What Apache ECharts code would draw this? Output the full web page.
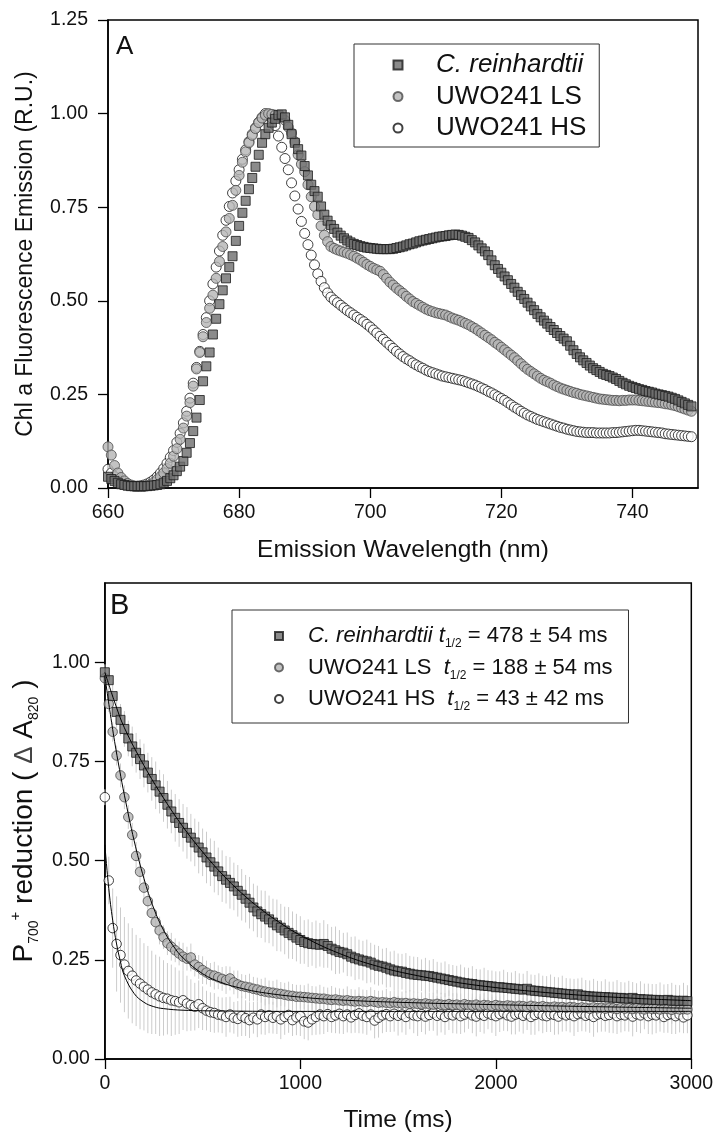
<!DOCTYPE html>
<html><head><meta charset="utf-8">
<script src="https://cdn.jsdelivr.net/npm/echarts@6/dist/echarts.min.js"></script>
<style>html,body{margin:0;padding:0;background:#fff}#c{width:716px;height:1135px}</style>
</head><body><div id="c"></div><script>
// ---------- Panel A: fluorescence emission spectra (660 to 749 nm, 0.5 nm step) ----------
const wlStart = 660, wlStep = 0.5;
const crA = [
0.030,0.024,0.019,0.014,0.010,0.008,0.006,0.005,0.005,0.005,
0.005,0.005,0.005,0.006,0.007,0.008,0.010,0.014,0.019,0.026,
0.034,0.045,0.057,0.072,0.094,0.120,0.152,0.188,0.235,0.285,
0.325,0.362,0.410,0.452,0.491,0.528,0.560,0.590,0.619,0.660,
0.700,0.735,0.767,0.798,0.828,0.858,0.890,0.922,0.945,0.962,
0.976,0.986,0.996,0.998,0.990,0.970,0.945,0.922,0.905,0.888,
0.860,0.835,0.810,0.793,0.778,0.752,0.730,0.714,0.702,0.692,
0.682,0.674,0.667,0.661,0.656,0.652,0.649,0.646,0.644,0.642,
0.641,0.640,0.639,0.638,0.638,0.638,0.638,0.639,0.641,0.643,
0.645,0.648,0.651,0.653,0.656,0.659,0.661,0.663,0.665,0.667,
0.669,0.671,0.672,0.673,0.675,0.676,0.677,0.676,0.674,0.671,
0.668,0.662,0.656,0.648,0.640,0.632,0.622,0.608,0.595,0.585,
0.575,0.565,0.555,0.545,0.535,0.524,0.515,0.505,0.495,0.485,
0.475,0.465,0.456,0.447,0.439,0.430,0.422,0.414,0.406,0.399,
0.392,0.380,0.368,0.358,0.349,0.341,0.334,0.327,0.320,0.315,
0.310,0.305,0.302,0.299,0.295,0.291,0.286,0.281,0.277,0.273,
0.270,0.267,0.264,0.262,0.259,0.257,0.255,0.252,0.250,0.248,
0.246,0.244,0.241,0.238,0.234,0.230,0.226,0.222,0.218];
const lsA = [
0.110,0.088,0.060,0.040,0.028,0.019,0.012,0.008,0.005,0.004,
0.004,0.004,0.006,0.009,0.015,0.022,0.030,0.040,0.052,0.066,
0.085,0.105,0.130,0.160,0.192,0.228,0.272,0.318,0.362,0.404,
0.442,0.480,0.515,0.560,0.605,0.645,0.684,0.720,0.755,0.795,
0.835,0.870,0.898,0.922,0.942,0.960,0.976,0.988,0.996,1.000,
0.998,0.996,0.994,0.990,0.982,0.964,0.948,0.925,0.890,0.865,
0.845,0.810,0.778,0.752,0.730,0.700,0.675,0.658,0.645,0.640,
0.636,0.633,0.630,0.627,0.623,0.619,0.614,0.609,0.603,0.597,
0.592,0.587,0.583,0.579,0.570,0.560,0.550,0.542,0.534,0.527,
0.520,0.512,0.505,0.498,0.493,0.488,0.483,0.478,0.474,0.471,
0.468,0.466,0.464,0.462,0.458,0.454,0.451,0.448,0.444,0.440,
0.436,0.431,0.426,0.420,0.414,0.408,0.402,0.396,0.389,0.383,
0.376,0.369,0.362,0.355,0.348,0.340,0.332,0.324,0.317,0.311,
0.305,0.299,0.293,0.288,0.284,0.280,0.275,0.271,0.267,0.264,
0.261,0.258,0.255,0.253,0.250,0.248,0.246,0.244,0.242,0.240,
0.238,0.237,0.236,0.235,0.234,0.234,0.233,0.234,0.234,0.235,
0.235,0.235,0.234,0.233,0.232,0.231,0.230,0.229,0.228,0.227,
0.225,0.224,0.222,0.220,0.217,0.214,0.211,0.208,0.205];
const hsA = [
0.050,0.040,0.030,0.022,0.016,0.011,0.008,0.006,0.005,0.005,
0.006,0.008,0.011,0.016,0.022,0.030,0.040,0.052,0.066,0.082,
0.100,0.122,0.146,0.174,0.205,0.240,0.280,0.322,0.365,0.410,
0.455,0.500,0.545,0.590,0.633,0.675,0.715,0.752,0.788,0.820,
0.850,0.878,0.903,0.925,0.945,0.962,0.977,0.990,1.000,0.998,
0.988,0.968,0.940,0.910,0.880,0.850,0.815,0.780,0.745,0.712,
0.680,0.650,0.622,0.596,0.572,0.552,0.535,0.521,0.510,0.502,
0.495,0.488,0.481,0.474,0.468,0.462,0.456,0.450,0.444,0.437,
0.430,0.422,0.414,0.405,0.397,0.389,0.381,0.373,0.365,0.358,
0.351,0.345,0.340,0.334,0.329,0.324,0.320,0.315,0.311,0.308,
0.305,0.302,0.299,0.297,0.295,0.293,0.291,0.289,0.287,0.284,
0.281,0.278,0.275,0.271,0.267,0.263,0.258,0.254,0.249,0.244,
0.239,0.234,0.228,0.222,0.216,0.211,0.205,0.200,0.195,0.191,
0.187,0.183,0.180,0.177,0.174,0.171,0.168,0.165,0.162,0.160,
0.157,0.155,0.153,0.151,0.150,0.149,0.148,0.148,0.148,0.147,
0.147,0.147,0.147,0.147,0.148,0.148,0.149,0.150,0.151,0.152,
0.153,0.154,0.154,0.153,0.152,0.151,0.150,0.149,0.148,0.147,
0.145,0.144,0.143,0.142,0.141,0.140,0.139,0.138,0.137];

// ---------- Panel B: P700+ reduction kinetics (0 to 2980 ms, 20 ms step) ----------
const tStart = 0, tStep = 20;
const crB = [
0.975,0.955,0.915,0.875,0.855,0.832,0.808,0.788,0.772,0.756,
0.740,0.722,0.706,0.690,0.674,0.658,0.641,0.624,0.608,0.595,
0.583,0.570,0.558,0.546,0.533,0.521,0.508,0.496,0.485,0.473,
0.461,0.452,0.444,0.435,0.424,0.414,0.404,0.394,0.382,0.372,
0.365,0.359,0.352,0.344,0.337,0.331,0.324,0.318,0.312,0.306,
0.300,0.295,0.292,0.290,0.289,0.288,0.290,0.285,0.278,0.274,
0.270,0.268,0.264,0.258,0.254,0.251,0.248,0.246,0.243,0.238,
0.235,0.233,0.230,0.226,0.223,0.221,0.220,0.217,0.215,0.213,
0.212,0.211,0.210,0.209,0.207,0.205,0.203,0.201,0.199,0.197,
0.195,0.193,0.191,0.190,0.189,0.187,0.186,0.185,0.184,0.183,
0.181,0.181,0.180,0.179,0.178,0.177,0.176,0.175,0.177,0.173,
0.172,0.171,0.170,0.169,0.168,0.167,0.166,0.165,0.164,0.163,
0.162,0.163,0.160,0.159,0.158,0.157,0.157,0.156,0.156,0.155,
0.155,0.154,0.154,0.153,0.152,0.154,0.151,0.151,0.150,0.150,
0.149,0.149,0.148,0.148,0.149,0.147,0.147,0.146,0.147,0.146];
const crBErr = [
0.020,0.030,0.035,0.040,0.040,0.045,0.045,0.050,0.050,0.050,
0.055,0.050,0.055,0.060,0.055,0.060,0.060,0.055,0.060,0.060,
0.060,0.065,0.060,0.060,0.065,0.060,0.065,0.060,0.065,0.060,
0.065,0.060,0.065,0.060,0.065,0.065,0.060,0.065,0.060,0.065,
0.060,0.065,0.060,0.060,0.065,0.060,0.060,0.065,0.060,0.060,
0.060,0.055,0.060,0.055,0.060,0.055,0.060,0.055,0.055,0.060,
0.055,0.050,0.055,0.050,0.055,0.050,0.050,0.055,0.050,0.050,
0.050,0.045,0.050,0.045,0.050,0.045,0.045,0.050,0.045,0.045,
0.045,0.040,0.045,0.040,0.045,0.040,0.040,0.045,0.040,0.040,
0.040,0.045,0.040,0.040,0.045,0.040,0.040,0.045,0.040,0.040,
0.040,0.040,0.045,0.040,0.040,0.045,0.040,0.040,0.045,0.040,
0.040,0.045,0.040,0.040,0.045,0.040,0.040,0.045,0.040,0.040,
0.040,0.040,0.045,0.040,0.040,0.045,0.040,0.040,0.045,0.040,
0.040,0.045,0.040,0.040,0.045,0.040,0.040,0.045,0.040,0.040,
0.040,0.040,0.045,0.040,0.040,0.045,0.040,0.040,0.045,0.040];
const lsB = [
0.960,0.895,0.825,0.765,0.715,0.660,0.610,0.565,0.512,0.472,
0.432,0.398,0.368,0.345,0.324,0.307,0.292,0.283,0.274,0.266,
0.258,0.253,0.256,0.238,0.232,0.224,0.218,0.212,0.210,0.206,
0.202,0.199,0.203,0.193,0.188,0.184,0.182,0.180,0.177,0.175,
0.172,0.170,0.168,0.167,0.165,0.164,0.162,0.160,0.159,0.157,
0.157,0.156,0.155,0.154,0.153,0.152,0.152,0.150,0.149,0.150,
0.148,0.147,0.148,0.146,0.145,0.146,0.145,0.144,0.146,0.144,
0.142,0.143,0.142,0.141,0.143,0.141,0.140,0.141,0.139,0.140,
0.139,0.138,0.140,0.138,0.137,0.139,0.137,0.136,0.138,0.136,
0.137,0.135,0.138,0.136,0.135,0.137,0.134,0.136,0.135,0.133,
0.136,0.134,0.133,0.135,0.134,0.132,0.134,0.133,0.131,0.134,
0.132,0.131,0.133,0.131,0.130,0.132,0.130,0.131,0.129,0.131,
0.130,0.128,0.130,0.129,0.127,0.130,0.128,0.129,0.127,0.129,
0.128,0.126,0.129,0.127,0.128,0.126,0.128,0.127,0.125,0.128,
0.126,0.127,0.125,0.127,0.126,0.124,0.127,0.125,0.126,0.125];
const lsBErr = [
0.015,0.020,0.025,0.025,0.030,0.030,0.030,0.030,0.035,0.030,
0.030,0.035,0.030,0.030,0.035,0.030,0.030,0.035,0.030,0.030,
0.035,0.030,0.035,0.030,0.030,0.035,0.030,0.030,0.035,0.030,
0.030,0.035,0.030,0.030,0.035,0.030,0.030,0.035,0.030,0.030,
0.030,0.035,0.030,0.030,0.035,0.030,0.030,0.035,0.030,0.030,
0.030,0.030,0.035,0.030,0.030,0.035,0.030,0.030,0.035,0.030,
0.030,0.030,0.035,0.030,0.030,0.035,0.030,0.030,0.035,0.030,
0.030,0.030,0.035,0.030,0.030,0.035,0.030,0.030,0.035,0.030,
0.030,0.030,0.035,0.030,0.030,0.035,0.030,0.030,0.035,0.030,
0.030,0.030,0.035,0.030,0.030,0.035,0.030,0.030,0.035,0.030,
0.030,0.030,0.035,0.030,0.030,0.035,0.030,0.030,0.035,0.030,
0.030,0.030,0.035,0.030,0.030,0.035,0.030,0.030,0.035,0.030,
0.030,0.030,0.035,0.030,0.030,0.035,0.030,0.030,0.035,0.030,
0.030,0.030,0.035,0.030,0.030,0.035,0.030,0.030,0.035,0.030,
0.030,0.030,0.035,0.030,0.030,0.035,0.030,0.030,0.035,0.030];
const hsB = [
0.660,0.450,0.330,0.290,0.262,0.238,0.222,0.210,0.198,0.190,
0.182,0.175,0.168,0.163,0.158,0.154,0.152,0.148,0.146,0.143,
0.148,0.140,0.136,0.132,0.138,0.128,0.122,0.118,0.116,0.112,
0.110,0.106,0.112,0.104,0.101,0.108,0.103,0.098,0.104,0.100,
0.112,0.106,0.110,0.104,0.108,0.100,0.106,0.111,0.098,0.105,
0.108,0.095,0.092,0.100,0.106,0.112,0.108,0.113,0.106,0.110,
0.114,0.108,0.112,0.105,0.111,0.115,0.109,0.106,0.112,0.097,
0.104,0.110,0.113,0.108,0.114,0.109,0.112,0.106,0.115,0.110,
0.108,0.113,0.107,0.111,0.116,0.109,0.112,0.106,0.113,0.110,
0.114,0.108,0.112,0.116,0.110,0.107,0.113,0.109,0.115,0.111,
0.108,0.113,0.116,0.110,0.107,0.112,0.114,0.109,0.113,0.106,
0.111,0.115,0.110,0.108,0.113,0.111,0.107,0.114,0.110,0.112,
0.108,0.113,0.115,0.109,0.111,0.106,0.112,0.114,0.109,0.111,
0.115,0.108,0.112,0.110,0.114,0.107,0.113,0.110,0.115,0.108,
0.112,0.110,0.114,0.106,0.111,0.113,0.108,0.112,0.105,0.110];
const hsBErr = [
0.020,0.060,0.100,0.120,0.120,0.120,0.120,0.120,0.115,0.115,
0.110,0.110,0.105,0.100,0.100,0.095,0.090,0.090,0.085,0.080,
0.075,0.070,0.065,0.060,0.060,0.055,0.050,0.050,0.050,0.045,
0.045,0.050,0.045,0.040,0.045,0.050,0.045,0.045,0.040,0.045,
0.050,0.045,0.045,0.040,0.045,0.050,0.045,0.045,0.040,0.045,
0.050,0.045,0.045,0.040,0.045,0.050,0.045,0.045,0.040,0.045,
0.050,0.045,0.045,0.040,0.045,0.050,0.045,0.045,0.040,0.045,
0.050,0.045,0.045,0.040,0.045,0.050,0.045,0.045,0.040,0.045,
0.050,0.045,0.045,0.040,0.045,0.050,0.045,0.045,0.040,0.045,
0.050,0.045,0.045,0.040,0.045,0.050,0.045,0.045,0.040,0.045,
0.050,0.045,0.045,0.040,0.045,0.050,0.045,0.045,0.040,0.045,
0.050,0.045,0.045,0.040,0.045,0.050,0.045,0.045,0.040,0.045,
0.050,0.045,0.045,0.040,0.045,0.050,0.045,0.045,0.040,0.045,
0.050,0.045,0.045,0.040,0.045,0.050,0.045,0.045,0.040,0.045,
0.050,0.045,0.045,0.040,0.045,0.050,0.045,0.045,0.040,0.045];
// fitted curves as [time ms, value]
const crFit = [[0,0.975],[50,0.90],[100,0.835],[200,0.74],[300,0.658],[400,0.585],[500,0.522],[600,0.466],[700,0.418],[800,0.377],[900,0.342],[1000,0.312],[1200,0.266],[1400,0.233],[1600,0.210],[1800,0.193],[2000,0.180],[2200,0.170],[2400,0.162],[2600,0.156],[2800,0.151],[3000,0.147]];
const lsFit = [[0,0.965],[25,0.88],[50,0.80],[75,0.73],[100,0.665],[150,0.55],[200,0.455],[250,0.38],[300,0.325],[350,0.285],[400,0.255],[500,0.215],[600,0.192],[700,0.178],[800,0.168],[1000,0.156],[1200,0.149],[1500,0.143],[2000,0.137],[2500,0.132],[3000,0.128]];
const hsFit = [[0,0.54],[20,0.43],[40,0.35],[60,0.29],[80,0.245],[100,0.21],[150,0.165],[200,0.143],[250,0.132],[300,0.127],[400,0.123],[600,0.121],[1000,0.12],[3000,0.12]];

// ---------- tick labels ----------
const xTicksA = [660, 680, 700, 720, 740];
const yTicksA = [0, 0.25, 0.5, 0.75, 1.0, 1.25];
const xTicksB = [0, 1000, 2000, 3000];
const yTicksB = [0, 0.25, 0.5, 0.75, 1.0];

const namesA = ['C. reinhardtii', 'UWO241 LS', 'UWO241 HS'];
const namesB = ['C. reinhardtii (B)', 'UWO241 LS (B)', 'UWO241 HS (B)'];

const FF = '"Liberation Sans", Arial, sans-serif';
const pairsA = arr => arr.map((v, i) => [wlStart + wlStep * i, v]);
const pairsB = arr => arr.map((v, i) => [tStart + tStep * i, v]);
const errB = (vals, errs) => vals.map((v, i) => [tStart + tStep * i, v, errs[i]]);

const styles = {
  cr: {color: '#6e6e6e', borderColor: '#1a1a1a', borderWidth: 1},
  ls: {color: '#b4b4b4', borderColor: '#4a4a4a', borderWidth: 1},
  hs: {color: '#ffffff', borderColor: '#111111', borderWidth: 1}
};

function axisCommon(ticks, fmt, margin) {
  return {
    axisLine: {show: true, onZero: false, lineStyle: {color: '#000', width: 1.5}},
    axisTick: {show: true, length: 10, customValues: ticks, lineStyle: {color: '#000', width: 1.3}},
    axisLabel: {customValues: ticks, fontSize: 19.5, color: '#111', fontFamily: FF, formatter: fmt, margin: margin},
    splitLine: {show: false}
  };
}

function errRender(params, api) {
  const x = api.value(0), y = api.value(1), e = api.value(2);
  const p1 = api.coord([x, y - e]), p2 = api.coord([x, y + e]);
  return {type: 'line', shape: {x1: p1[0], y1: p1[1], x2: p2[0], y2: p2[1]},
          style: {stroke: '#cccccc', lineWidth: 1}};
}

const chart = echarts.init(document.getElementById('c'), null, {renderer: 'canvas'});
chart.setOption({
  animation: false,
  backgroundColor: '#fff',
  textStyle: {fontFamily: FF},
  grid: [
    {left: 108, top: 20, width: 590, height: 468, show: true, borderColor: '#000', borderWidth: 1.5, backgroundColor: 'transparent'},
    {left: 101, top: 583, width: 597, height: 476, show: true, borderColor: '#000', borderWidth: 1.5, backgroundColor: 'transparent'}
  ],
  xAxis: [
    Object.assign({gridIndex: 0, type: 'value', min: 660, max: 750,
      name: 'Emission Wavelength (nm)', nameLocation: 'middle', nameGap: 50,
      nameTextStyle: {fontSize: 24.5, color: '#111', fontFamily: FF}},
      axisCommon(xTicksA, v => String(v), 15)),
    Object.assign({gridIndex: 1, type: 'value', min: 0, max: 3000,
      name: 'Time (ms)', nameLocation: 'middle', nameGap: 49,
      nameTextStyle: {fontSize: 24.5, color: '#111', fontFamily: FF}},
      axisCommon(xTicksB, v => String(v), 15))
  ],
  yAxis: [
    Object.assign({gridIndex: 0, type: 'value', min: 0, max: 1.25,
      name: 'Chl a Fluorescence Emission (R.U.)', nameLocation: 'middle', nameGap: 71,
      nameTextStyle: {fontSize: 23, color: '#111', fontFamily: FF}},
      axisCommon(yTicksA, v => v.toFixed(2), 20)),
    Object.assign({gridIndex: 1, type: 'value', min: 0, max: 1.2,
      name: '{n|P}{s|700}{p|+}{n| reduction ( }{g|Δ}{n| A}{s|820}{n| )}', nameLocation: 'middle', nameGap: 58,
      nameTextStyle: {fontSize: 28, color: '#111', fontFamily: FF, rich: {
        n: {fontSize: 28, color: '#111', fontFamily: FF, lineHeight: 33},
        g: {fontSize: 26, color: '#444', fontFamily: FF, lineHeight: 33},
        s: {fontSize: 14, color: '#111', fontFamily: FF, lineHeight: 8, verticalAlign: 'bottom'},
        p: {fontSize: 15, color: '#111', fontFamily: FF, lineHeight: 14, verticalAlign: 'top'}
      }}},
      axisCommon(yTicksB, v => v.toFixed(2), 15))
  ],
  legend: [
    {
      data: [{name: namesA[0], icon: 'rect'}, {name: namesA[1], icon: 'circle'}, {name: namesA[2], icon: 'circle'}],
      orient: 'vertical', left: 354, top: 44, selectedMode: false,
      itemWidth: 9, itemHeight: 9, itemGap: 3.5,
      padding: [7, 13, 5, 38.5], borderColor: '#333', borderWidth: 1, backgroundColor: '#fff',
      formatter: n => n === namesA[0] ? '{sp| }{i|' + n + '}' : '{sp| }{n|' + n + '}',
      textStyle: {fontSize: 26, lineHeight: 28, color: '#111', fontFamily: FF, rich: {
        sp: {width: 28.5, fontSize: 26, lineHeight: 28},
        i: {fontSize: 26, fontStyle: 'italic', color: '#111', fontFamily: FF, lineHeight: 28},
        n: {fontSize: 26, color: '#111', fontFamily: FF, lineHeight: 28}
      }}
    },
    {
      data: [{name: namesB[0], icon: 'rect'}, {name: namesB[1], icon: 'circle'}, {name: namesB[2], icon: 'circle'}],
      orient: 'vertical', left: 232, top: 610, selectedMode: false,
      itemWidth: 8, itemHeight: 8, itemGap: 3.5,
      padding: [12, 16, 10, 42], borderColor: '#333', borderWidth: 1, backgroundColor: '#fff',
      formatter: n => {
        if (n === namesB[0]) return '{sp| }{i|C. reinhardtii t}{s|1/2}{n| = 478 ± 54 ms}';
        if (n === namesB[1]) return '{sp| }{n|UWO241 LS  }{i|t}{s|1/2}{n| = 188 ± 54 ms}';
        return '{sp| }{n|UWO241 HS  }{i|t}{s|1/2}{n| = 43 ± 42 ms}';
      },
      textStyle: {fontSize: 22, lineHeight: 28, color: '#111', fontFamily: FF, rich: {
        sp: {width: 20, fontSize: 22, lineHeight: 28},
        i: {fontSize: 22, fontStyle: 'italic', color: '#111', fontFamily: FF, lineHeight: 28},
        n: {fontSize: 22, color: '#111', fontFamily: FF, lineHeight: 28},
        s: {fontSize: 12, color: '#111', fontFamily: FF, lineHeight: 8, verticalAlign: 'bottom'}
      }}
    }
  ],
  graphic: [
    {type: 'text', left: 116, top: 34, style: {text: 'A', fontSize: 26, fill: '#111', fontFamily: FF}},
    {type: 'text', left: 110, top: 591, style: {text: 'B', fontSize: 29, fill: '#111', fontFamily: FF}}
  ],
  series: [
    {name: namesA[2], type: 'scatter', xAxisIndex: 0, yAxisIndex: 0, symbol: 'circle', symbolSize: 10, itemStyle: styles.hs, data: pairsA(hsA), z: 2},
    {name: namesA[1], type: 'scatter', xAxisIndex: 0, yAxisIndex: 0, symbol: 'circle', symbolSize: 10, itemStyle: styles.ls, data: pairsA(lsA), z: 3},
    {name: namesA[0], type: 'scatter', xAxisIndex: 0, yAxisIndex: 0, symbol: 'rect', symbolSize: 9, itemStyle: styles.cr, data: pairsA(crA), z: 4},

    {type: 'custom', xAxisIndex: 1, yAxisIndex: 1, renderItem: errRender, data: errB(hsB, hsBErr), z: 1, silent: true},
    {type: 'custom', xAxisIndex: 1, yAxisIndex: 1, renderItem: errRender, data: errB(lsB, lsBErr), z: 1, silent: true},
    {type: 'custom', xAxisIndex: 1, yAxisIndex: 1, renderItem: errRender, data: errB(crB, crBErr), z: 1, silent: true},
    {name: namesB[2], type: 'scatter', xAxisIndex: 1, yAxisIndex: 1, symbol: 'circle', symbolSize: 9.5, itemStyle: styles.hs, data: pairsB(hsB), z: 2},
    {name: namesB[1], type: 'scatter', xAxisIndex: 1, yAxisIndex: 1, symbol: 'circle', symbolSize: 9.5, itemStyle: styles.ls, data: pairsB(lsB), z: 3},
    {name: namesB[0], type: 'scatter', xAxisIndex: 1, yAxisIndex: 1, symbol: 'rect', symbolSize: 9, itemStyle: styles.cr, data: pairsB(crB), z: 4},
    {type: 'line', xAxisIndex: 1, yAxisIndex: 1, data: hsFit, smooth: 0.4, showSymbol: false, symbol: 'none', lineStyle: {color: '#000', width: 1}, z: 6, silent: true},
    {type: 'line', xAxisIndex: 1, yAxisIndex: 1, data: lsFit, smooth: 0.4, showSymbol: false, symbol: 'none', lineStyle: {color: '#000', width: 1}, z: 6, silent: true},
    {type: 'line', xAxisIndex: 1, yAxisIndex: 1, data: crFit, smooth: 0.4, showSymbol: false, symbol: 'none', lineStyle: {color: '#000', width: 1}, z: 6, silent: true}
  ]
});
</script></body></html>
